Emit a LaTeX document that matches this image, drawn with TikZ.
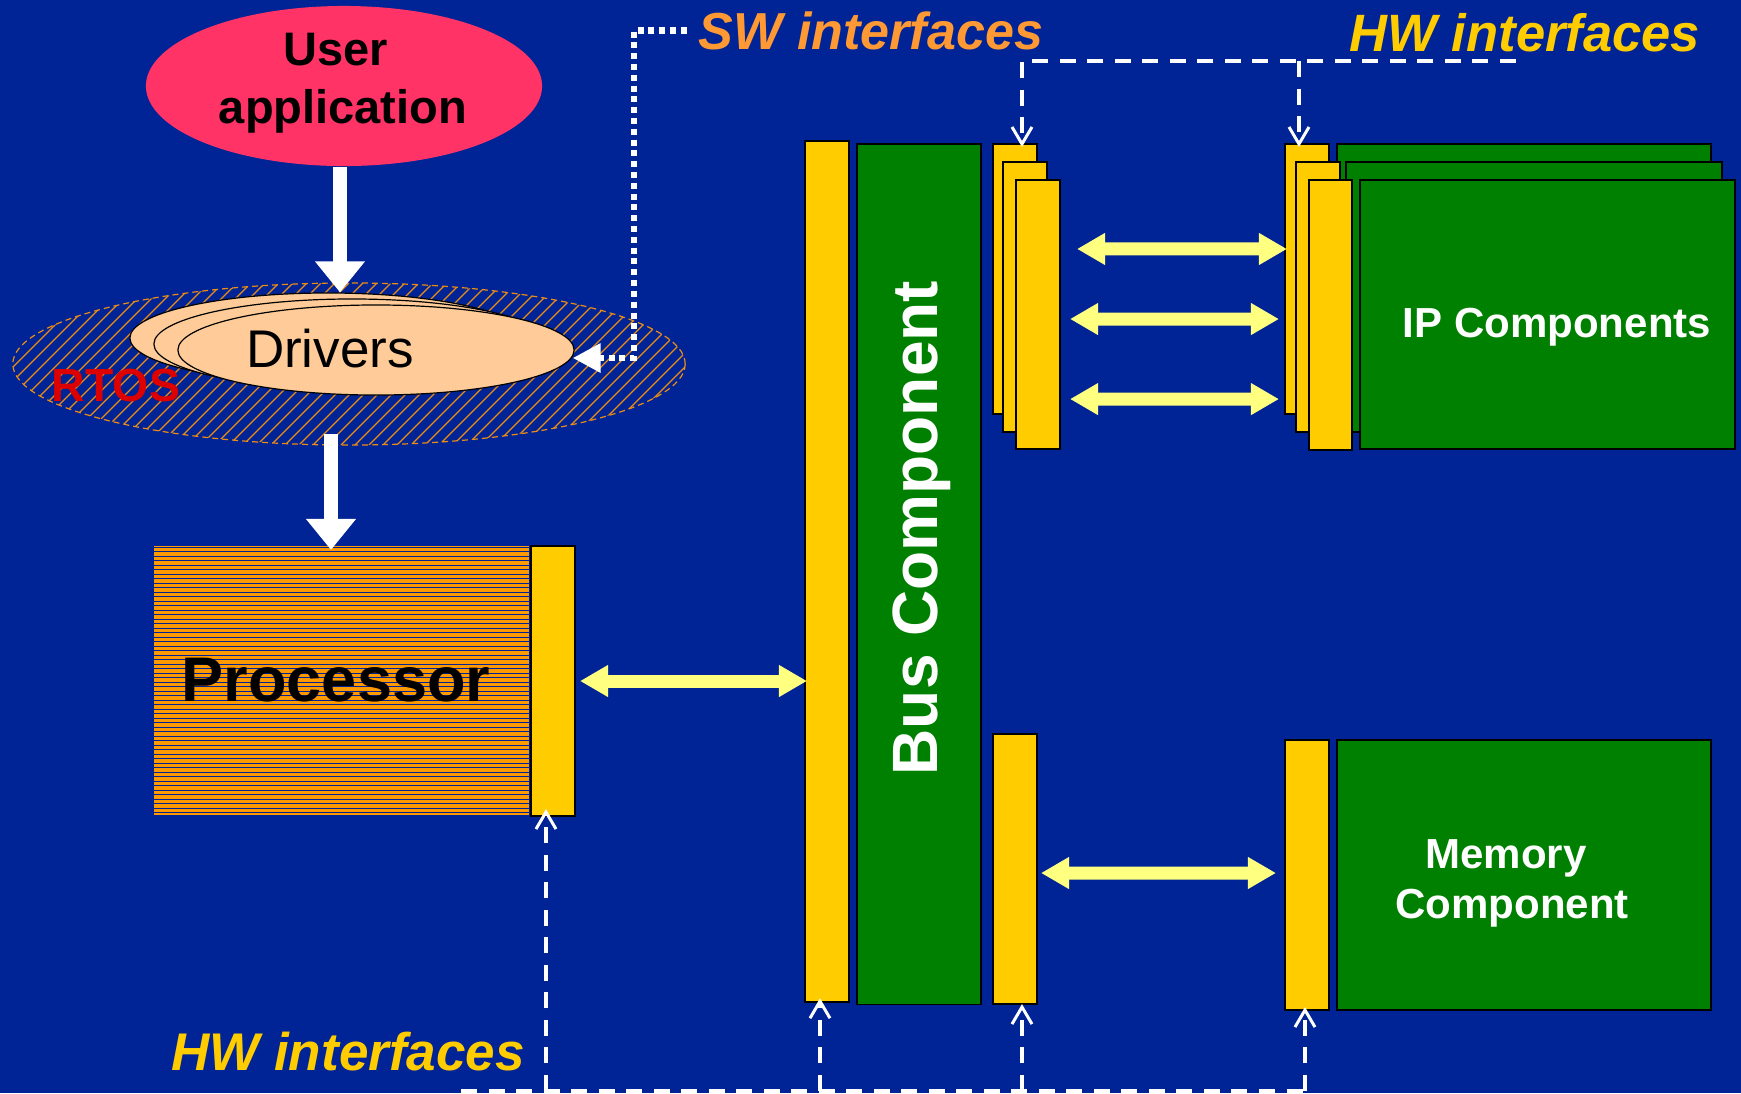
\documentclass[tikz,border=0pt]{standalone}
\usepackage{fontspec}
\setmainfont{Liberation Sans}
\usetikzlibrary{arrows.meta,shapes.geometric,calc}

\definecolor{bgblue}{RGB}{0,35,149}
\definecolor{ifyellow}{RGB}{255,204,0}
\definecolor{compgreen}{RGB}{0,128,0}
\definecolor{arrowyellow}{RGB}{255,255,128}
\definecolor{apppink}{RGB}{255,51,102}
\definecolor{drvpeach}{RGB}{255,204,153}
\definecolor{procorange}{RGB}{255,153,0}
\definecolor{sworange}{RGB}{255,153,51}
\definecolor{rtosred}{RGB}{220,0,0}
\definecolor{hatchorange}{RGB}{235,140,20}

\begin{document}
\begin{tikzpicture}[x=0.01cm,y=-0.01cm,
  ybar/.style={rectangle,draw=black,line width=0.02cm,fill=ifyellow,inner sep=0,outer sep=0},
  gbox/.style={rectangle,draw=black,line width=0.015cm,fill=compgreen,inner sep=0,outer sep=0},
  drv/.style={ellipse,draw=black,line width=0.012cm,fill=drvpeach,inner sep=0,
    minimum width=3.96cm,minimum height=0.90cm},
  lbl/.style={inner sep=0,outer sep=0,anchor=base},
  bigarrow/.style={draw=white,line width=0.14cm,-{Triangle[length=0.31cm,width=0.48cm]}},
  busarrow/.style={draw=arrowyellow,line width=0.13cm,
    {Triangle[length=0.28cm,width=0.30cm]}-{Triangle[length=0.28cm,width=0.30cm]}},
  swdots/.style={draw=white,line width=0.065cm,dash pattern=on 0.06cm off 0.048cm},
  swhead/.style={draw=white,line width=0.065cm,-{Triangle[length=0.28cm,width=0.28cm]}},
  hwlink/.style={draw=white,line width=0.04cm,dash pattern=on 0.16cm off 0.115cm},
  hwtip/.style={hwlink,-{Straight Barb[length=0.17cm,width=0.20cm,line width=0.03cm]}},
  boldtext/.style={font=\bfseries\fontsize{#1}{1.2\dimexpr#1\relax}\selectfont},
]

% page and background
\fill[bgblue] (0,0) rectangle (1741,1093);
\useasboundingbox (0,0) rectangle (1741,1093);

% software stack
\node[ellipse,inner sep=0,minimum width=3.96cm,minimum height=1.60cm,fill=apppink] (app) at (344,86) {};
\node[lbl,boldtext=13.37pt] (appL1) at (336,65) {User};
\node[lbl,boldtext=13.37pt] (appL2) at (343,123) {application};

% RTOS: hatched ellipse with a dashed rim
\node[ellipse,inner sep=0,minimum width=6.72cm,minimum height=1.62cm] (rtos) at (349,364) {};
\begin{scope}
  \clip (rtos.center) ellipse [x radius=3.36cm,y radius=0.81cm];
  \foreach \c in {296,310,...,1136}
    \draw[hatchorange,line width=0.012cm] ({\c-283},283) -- ({\c-445},445);
\end{scope}
\draw[hatchorange,line width=0.012cm,dash pattern=on 0.06cm off 0.04cm]
  (rtos.center) ellipse [x radius=3.36cm,y radius=0.81cm];

\node[drv] (drv3) at (328,338) {};
\node[drv] (drv2) at (352,344) {};
\node[drv] (drv1) at (376,350) {};
\node[lbl,font=\fontsize{15.08pt}{18pt}\selectfont] (drvLbl) at (330,367) {Drivers};
\node[lbl,text=rtosred,boldtext=13.2pt] (rtosLbl) at (116,401) {RTOS};

% processor with its interface
\node[rectangle,inner sep=0,outer sep=0,minimum width=3.75cm,minimum height=2.69cm,
  fill=procorange] (proc) at (341.5,680.5) {};
\foreach \k in {0,...,59}
  \draw[bgblue,line width=0.009cm] (154,{547+4.5*\k}) -- (529,{547+4.5*\k});
\node[lbl,boldtext=17.93pt] (procLbl) at (336,701) {Processor};
\node[ybar,minimum width=0.44cm,minimum height=2.70cm] (procIf) at (553,681) {};

% bus
\node[ybar,minimum width=0.44cm,minimum height=8.61cm] (busIf) at (827,571.5) {};
\node[gbox,minimum width=1.24cm,minimum height=8.60cm] (bus) at (919,574) {};
\node[lbl,rotate=90,text=white,boldtext=18.21pt] (busLbl) at (937,528) {Bus Component};

% bus side interfaces towards the IP components
\node[ybar,minimum width=0.44cm,minimum height=2.70cm] (ifA1) at (1015,279) {};
\node[ybar,minimum width=0.44cm,minimum height=2.70cm] (ifA2) at (1025,297) {};
\node[ybar,minimum width=0.44cm,minimum height=2.69cm] (ifA3) at (1038,314.5) {};

% IP components (stacked)
\node[ybar,minimum width=0.44cm,minimum height=2.70cm] (ifB1) at (1307,279) {};
\node[gbox,minimum width=3.74cm,minimum height=2.70cm] (ipB1) at (1524,279) {};
\node[ybar,minimum width=0.44cm,minimum height=2.70cm] (ifB2) at (1318,297) {};
\node[gbox,minimum width=3.76cm,minimum height=2.70cm] (ipB2) at (1534,297) {};
\node[ybar,minimum width=0.43cm,minimum height=2.70cm] (ifB3) at (1330.5,315) {};
\node[gbox,minimum width=3.75cm,minimum height=2.69cm] (ip) at (1547.5,314.5) {};
\node[lbl,text=white,boldtext=11.95pt] (ipLbl) at (1557,337) {IP Components};

% memory
\node[ybar,minimum width=0.44cm,minimum height=2.70cm] (memIf) at (1015,869) {};
\node[ybar,minimum width=0.44cm,minimum height=2.70cm] (memIfR) at (1307,875) {};
\node[gbox,minimum width=3.74cm,minimum height=2.70cm] (mem) at (1524,875) {};
\node[lbl,text=white,boldtext=11.95pt] (memL1) at (1506,868) {Memory};
\node[lbl,text=white,boldtext=11.95pt] (memL2) at (1512,918) {Component};

% control flow arrows
\draw[bigarrow] ([xshift=-0.04cm]app.south) -- ([xshift=-0.04cm]app.south |- drv3.north);
\draw[bigarrow] ([xshift=-0.18cm,yshift=0.12cm]rtos.south) -- ([xshift=-0.18cm,yshift=-0.04cm]rtos.south |- proc.north);

% bus transfers
\draw[busarrow] ([xshift=0.05cm]procIf.east) -- ([xshift=0.02cm]busIf.west |- procIf.east);
\draw[busarrow] ([xshift=0.17cm,yshift=0.655cm]ifA3.east) -- ([xshift=0.02cm,yshift=0.30cm]ifB1.west);
\draw[busarrow] ([xshift=0.10cm,yshift=-0.045cm]ifA3.east) -- ([xshift=-0.06cm,yshift=-0.40cm]ifB1.west);
\draw[busarrow] ([xshift=0.10cm,yshift=-0.845cm]ifA3.east) -- ([xshift=-0.06cm,yshift=-1.20cm]ifB1.west);
\draw[busarrow] ([xshift=0.04cm,yshift=-0.04cm]memIf.east) -- ([xshift=-0.09cm,yshift=0.02cm]memIfR.west);

% SW interfaces: square-dotted link ending in a solid head at the drivers
\node[lbl,text=sworange,font=\bfseries\itshape\fontsize{14.8pt}{17pt}\selectfont] (swLbl) at (871,49) {SW interfaces};
\coordinate (swBend) at (634,29);
\coordinate (swTip) at ([xshift=-0.02cm,yshift=-0.08cm]drv1.east);
\draw[swdots] ([xshift=-0.12cm]swLbl.west) -- (swLbl.west -| swBend) |- ([xshift=0.28cm]swTip);
\draw[swhead] ([xshift=0.30cm]swTip) -- (swTip);

% HW interfaces, top
\node[lbl,text=ifyellow,font=\bfseries\itshape\fontsize{14.94pt}{17pt}\selectfont] (hwTopLbl) at (1525,51) {HW interfaces};
\coordinate (hwTopR) at (1516,61);
\coordinate (hwTopL) at (1022,61);
\coordinate (hwTopM) at (1299,61);
\draw[hwtip] (hwTopR) -- (hwTopL) -- ([yshift=-0.03cm]hwTopL |- ifA1.north);
\draw[hwtip] (hwTopM) -- ([yshift=-0.03cm]hwTopM |- ifB1.north);

% HW interfaces, bottom
\node[lbl,text=ifyellow,font=\bfseries\itshape\fontsize{15.08pt}{17pt}\selectfont] (hwBotLbl) at (348,1070) {HW interfaces};
\coordinate (hwBotL) at (461,1091);
\coordinate (hwBotR) at (1305,1091);
\coordinate (hwB1) at (546,1091);
\coordinate (hwB2) at (820,1091);
\coordinate (hwB3) at (1022,1091);
\draw[hwlink] (hwBotL) -- (hwBotR);
\draw[hwtip] (hwB1) -- ([yshift=0.07cm]hwB1 |- procIf.south);
\draw[hwtip] (hwB2) -- ([yshift=0.04cm]hwB2 |- busIf.south);
\draw[hwtip] (hwB3) -- (hwB3 |- memIf.south);
\draw[hwtip] (hwBotR) -- ([yshift=0.03cm]hwBotR |- memIfR.south);
\end{tikzpicture}
\end{document}
